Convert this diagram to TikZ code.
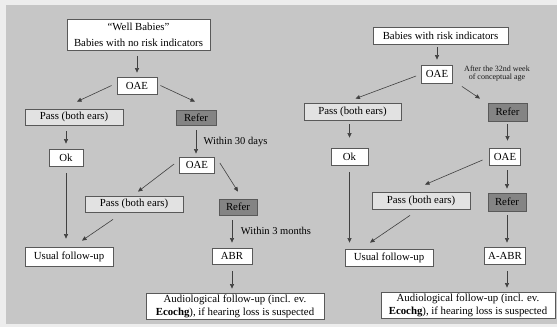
\documentclass[tikz,border=0pt]{standalone}
\usepackage{fontspec}
\setmainfont{Liberation Serif}
\usetikzlibrary{arrows.meta,calc}
\definecolor{bggray}{HTML}{C6C6C6}
\definecolor{outergray}{HTML}{EDEDED}
\definecolor{passgray}{HTML}{E2E2E2}
\definecolor{refergray}{HTML}{848484}
\begin{document}
\begin{tikzpicture}[x=1pt,y=-1pt,
  box/.style={draw=black!65,line width=0.8pt,fill=white,inner sep=0pt,
    font=\fontsize{10.8}{13}\selectfont,align=center,text=black},
  passbox/.style={box,fill=passgray},
  referbox/.style={box,fill=refergray},
  arr/.style={draw=black!75,line width=0.6pt,-{Triangle[length=4.5pt,width=4pt]}},
  lbl/.style={font=\fontsize{10.5}{12}\selectfont,inner sep=0pt,text=black},
  small/.style={font=\fontsize{8}{8.5}\selectfont,inner sep=0pt,align=center,text=black!90}]
\useasboundingbox (0,0) rectangle (557,327);
\fill[outergray] (0,0) rectangle (557,327);
\fill[bggray] (6,5) rectangle (557,324);

% ---- left tree ----
\node[box,minimum width=143pt,minimum height=31pt] (wb) at (138.5,35)
  {``Well Babies''\\[3pt]Babies with no risk indicators};
\node[box,minimum width=40pt,minimum height=17pt] (oae1) at (137,85.5) {OAE};
\node[passbox,minimum width=98pt,minimum height=16pt] (pass1) at (74,117) {Pass (both ears)};
\node[referbox,minimum width=40pt,minimum height=15pt] (refer1) at (196,117.5) {Refer};
\node[box,minimum width=34pt,minimum height=17pt] (ok1) at (66,157.5) {Ok};
\node[box,minimum width=35pt,minimum height=16pt] (oae2) at (197,165) {OAE};
\node[passbox,minimum width=98pt,minimum height=16pt] (pass2) at (134,204) {Pass (both ears)};
\node[referbox,minimum width=38pt,minimum height=16pt] (refer2) at (238,207) {Refer};
\node[box,minimum width=88pt,minimum height=19pt] (usual1) at (69,256.5) {Usual follow-up};
\node[box,minimum width=40pt,minimum height=16pt] (abr) at (232,256) {ABR};
\node[box,minimum width=178pt,minimum height=26pt] (aud1) at (235,306)
  {Audiological follow-up (incl. ev.\\\textbf{Ecochg}), if hearing loss is suspected};
\node[lbl] (w30) at (235.5,142) {Within 30 days};
\node[lbl] (w3m) at (276,231) {Within 3 months};

\draw[arr,shorten <=5pt,shorten >=4pt] (oae1.north |- wb.south) -- (oae1.north);
\draw[arr] ($(oae1.west)+(-5,0)$) -- ($(pass1.north)+(3,-7)$);
\draw[arr] ($(oae1.east)+(3,0)$) -- ($(refer1.north)+(-1,-8)$);
\draw[arr,shorten <=6pt,shorten >=5pt] (ok1.north |- pass1.south) -- (ok1.north);
\draw[arr,shorten <=5pt,shorten >=3pt] (refer1.south) -- (refer1.south |- oae2.north);
\draw[arr] ($(oae2.west)+(-5,-1)$) -- ($(pass2.north)+(4,-4)$);
\draw[arr] ($(oae2.east)+(5,-2)$) -- ($(refer2.north)+(0,-7)$);
\draw[arr,shorten <=7pt,shorten >=8pt] (ok1.south) -- (ok1.south |- usual1.north);
\draw[arr] ($(pass2.south)+(-21,7)$) -- ($(usual1.north)+(13,-6)$);
\draw[arr,shorten <=5pt,shorten >=5pt] (abr.north |- refer2.south) -- (abr.north);
\draw[arr,shorten <=7pt,shorten >=4pt] (abr.south) -- (abr.south |- aud1.north);

% ---- right tree ----
\node[box,minimum width=135pt,minimum height=17pt] (bri) at (440.5,35.5) {Babies with risk indicators};
\node[box,minimum width=31pt,minimum height=18pt] (oae3) at (437,74) {OAE};
\node[small] (wk) at (497,73.5) {After the 32nd week\\of conceptual age};
\node[passbox,minimum width=97pt,minimum height=17pt] (pass3) at (352.5,111.5) {Pass (both ears)};
\node[referbox,minimum width=39pt,minimum height=18pt] (refer3) at (507.5,112) {Refer};
\node[box,minimum width=37pt,minimum height=17pt] (ok3) at (349.5,156.5) {Ok};
\node[box,minimum width=31pt,minimum height=17pt] (oae4) at (505,156.5) {OAE};
\node[passbox,minimum width=98pt,minimum height=17pt] (pass4) at (421,200.5) {Pass (both ears)};
\node[referbox,minimum width=38pt,minimum height=18pt] (refer4) at (507,202) {Refer};
\node[box,minimum width=88pt,minimum height=17pt] (usual2) at (389,257.5) {Usual follow-up};
\node[box,minimum width=41pt,minimum height=17pt] (aabr) at (505,255.5) {A-ABR};
\node[box,minimum width=174pt,minimum height=26pt] (aud2) at (468,305)
  {Audiological follow-up (incl. ev.\\\textbf{Ecochg}), if hearing loss is suspected};

\draw[arr,shorten <=3pt,shorten >=5pt] (oae3.north |- bri.south) -- (oae3.north);
\draw[arr] ($(oae3.west)+(-5,2)$) -- ($(pass3.north)+(3,-4)$);
\draw[arr] ($(oae3.south east)+(9,3)$) -- ($(refer3.north)+(-27.5,-4)$);
\draw[arr,shorten <=4pt,shorten >=10pt] (ok3.north |- pass3.south) -- (ok3.north);
\draw[arr,shorten <=3pt,shorten >=7pt] (refer3.south) -- (refer3.south |- oae4.north);
\draw[arr] ($(oae4.west)+(-6.5,3.5)$) -- ($(pass4.north)+(4,-7)$);
\draw[arr,shorten <=5pt,shorten >=4pt] (refer4.north |- oae4.south) -- (refer4.north);
\draw[arr,shorten <=7pt,shorten >=6pt] (ok3.south) -- (ok3.south |- usual2.north);
\draw[arr] ($(pass4.south)+(-11,6)$) -- ($(usual2.north)+(-19,-6)$);
\draw[arr,shorten <=4pt,shorten >=4pt] (refer4.south) -- (refer4.south |- aabr.north);
\draw[arr,shorten <=7pt,shorten >=4pt] (refer4.south |- aabr.south) -- (refer4.south |- aud2.north);
\end{tikzpicture}
\end{document}
